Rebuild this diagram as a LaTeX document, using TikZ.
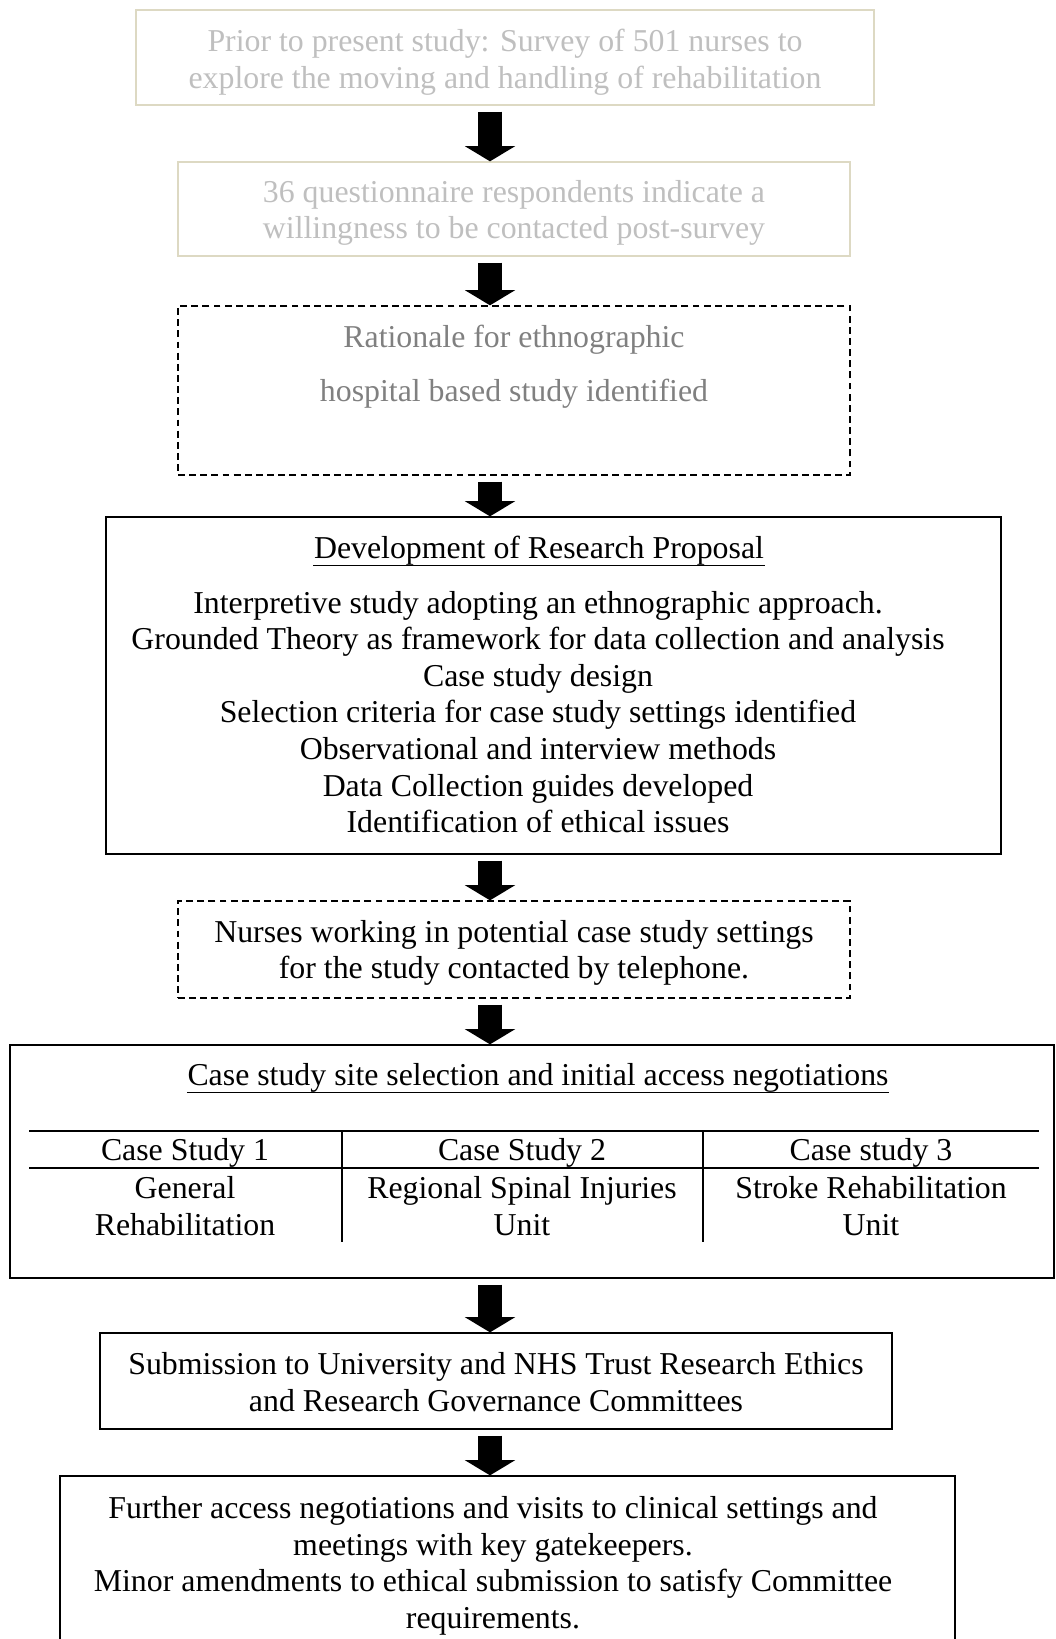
\documentclass[tikz,border=0pt]{standalone}
\usepackage{fontspec}
\setmainfont{Liberation Serif}
\usetikzlibrary{fit,arrows.meta}
\definecolor{paleline}{HTML}{DDD9C3}
\definecolor{paletext}{HTML}{BFBFBF}
\definecolor{midtext}{HTML}{808080}

\begin{document}
\begin{tikzpicture}[x=0.377pt,y=-0.377pt,line width=0.5pt]
    \tikzstyle{box}=[draw,inner sep=0pt]
    \tikzstyle{pale box}=[box,draw=paleline]
    \tikzstyle{dashed box}=[box,dash pattern=on 2.6pt off 1.6pt]
    \tikzstyle{txt}=[align=center,inner sep=0pt,font=\fontsize{12}{13.8}\selectfont]
    \tikzstyle{heading}=[txt,anchor=base]
    \tikzstyle{block arrow}=[line width=9.4pt,-{Triangle[width=18.9pt,length=5.7pt,line width=0pt]}]
    \tikzstyle{rule}=[line width=0.75pt]

    \useasboundingbox (0,0) rectangle (1056,1639);

    % Draw the boxes
    \node[pale box,fit={(136,10) (874,105)}] (survey) {};
    \node[pale box,fit={(178,162) (850,256)}] (willing) {};
    \node[dashed box,fit={(178,306) (850,475)}] (rationale) {};
    \node[box,fit={(106,517) (1001,854)}] (proposal) {};
    \node[dashed box,fit={(178,901) (850,998)}] (contact) {};
    \node[box,fit={(10,1045) (1054,1278)}] (sites) {};
    \node[box,fit={(100,1333) (892,1429)}] (ethics) {};
    \node[box,fit={(60,1476) (955,1641)}] (access) {};

    % Write the texts into the boxes
    \node[txt,text=paletext] (survey-t) at (505,62)
        {Prior to present study: Survey of 501 nurses to\\explore the moving and handling of rehabilitation};
    \node[txt,text=paletext] (willing-t) at (514,213)
        {36 questionnaire respondents indicate a\\willingness to be contacted post-survey};
    \node[txt,text=midtext] (rationale-t) at (514,367)
        {Rationale for ethnographic\\[6.6pt]hospital based study identified};
    \node[heading] (proposal-h) at (539,558) {Development of Research Proposal};
    \node[txt] (proposal-t) at (538,712)
        {Interpretive study adopting an ethnographic approach.\\
         Grounded Theory as framework for data collection and analysis\\
         Case study design\\
         Selection criteria for case study settings identified\\
         Observational and interview methods\\
         Data Collection guides developed\\
         Identification of ethical issues};
    \node[txt] (contact-t) at (514,953)
        {Nurses working in potential case study settings\\for the study contacted by telephone.};
    \node[heading] (sites-h) at (538,1085) {Case study site selection and initial access negotiations};
    \node[txt] (ethics-t) at (496,1382)
        {Submission to University and NHS Trust Research Ethics\\and Research Governance Committees};
    \node[txt] (access-t) at (493,1566)
        {Further access negotiations and visits to clinical settings and\\
         meetings with key gatekeepers.\\
         Minor amendments to ethical submission to satisfy Committee\\
         requirements.};

    % Underline the headings
    \foreach \name in {proposal-h,sites-h}
        \draw ([yshift=-2.7pt]\name.base west) -- ([yshift=-2.7pt]\name.base east);

    % Draw the table of case studies
    \draw[rule] (29,1131) -- (1039,1131);
    \draw[rule] (29,1168) -- (1039,1168);
    \foreach \x in {342,703}
        \draw (\x,1131) -- (\x,1242);
    \foreach \name/\x/\head/\unit in {1/185/Case Study 1/General\\Rehabilitation,
                                      2/522/Case Study 2/Regional Spinal Injuries\\Unit,
                                      3/871/Case study 3/Stroke Rehabilitation\\Unit}
    {
        \node[txt] (head-\name) at (\x,1153) {\head};
        \node[txt] (unit-\name) at (\x,1206) {\unit};
    }

    % Connect every box with the next one
    \coordinate (ax) at (490,0);
    \foreach \source/\dest in {survey/willing,willing/rationale,rationale/proposal,
                               proposal/contact,contact/sites,sites/ethics,ethics/access}
        \draw[block arrow] (\source.south -| ax) ++(0,6) -- (\dest.north -| ax);
\end{tikzpicture}
\end{document}
